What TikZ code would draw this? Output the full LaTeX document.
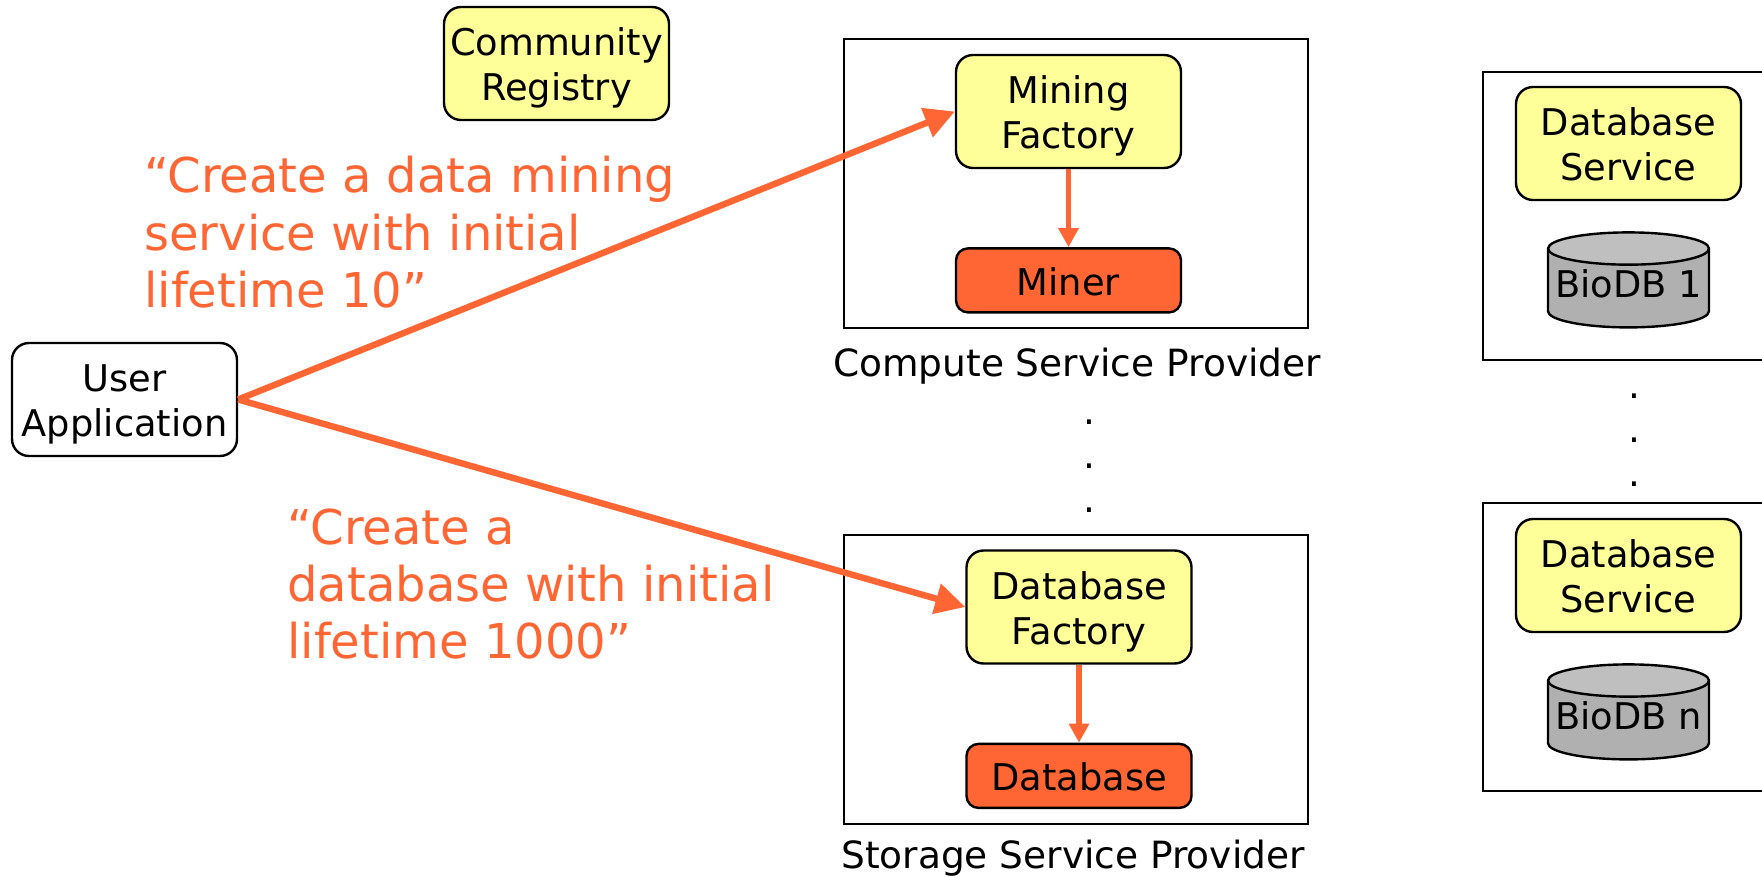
\documentclass[tikz,border=0pt]{standalone}
\usepackage{fontspec}
\setmainfont{DejaVu Sans}
\usetikzlibrary{positioning, arrows.meta, shapes.geometric}
\definecolor{factoryyellow}{HTML}{FFFF99}
\definecolor{createorange}{HTML}{FF6633}

\begin{document}
\begin{tikzpicture}[
  x=0.5pt, y=-0.5pt,
  node distance=39pt,
  box/.style={rectangle, draw, line width=1.2pt, rounded corners=8.5pt, text width=112.5pt, minimum height=56.5pt, inner sep=0pt, align=center, font=\fontsize{18.4}{22.5}\selectfont, execute at begin node={\rule{0pt}{19.7pt}}, execute at end node={\rule[-5pt]{0pt}{5pt}}},
  factory/.style={box, fill=factoryyellow},
  product/.style={box, fill=createorange, rounded corners=6pt, minimum height=32pt},
  provider/.style={rectangle, draw, line width=0.8pt, minimum width=232pt, minimum height=144.5pt},
  bioprovider/.style={rectangle, draw, line width=1pt, minimum width=160pt, minimum height=144pt},
  biodb/.style={cylinder, shape border rotate=90, aspect=0.22, draw, line width=1.2pt, cylinder uses custom fill, cylinder body fill=black!31, cylinder end fill=black!25, minimum width=80.5pt, minimum height=47.5pt, inner sep=0pt, text depth=5pt, font=\fontsize{18.4}{22.5}\selectfont},
  caption/.style={font=\fontsize{18.75}{22.5}\selectfont, inner sep=0pt},
  dots/.style={align=center, inner sep=0pt, font=\fontsize{18.7}{22}\selectfont},
  request/.style={anchor=north west, align=left, inner sep=0pt, text=createorange, font=\fontsize{24}{28.7}\selectfont},
  arrow/.style={-{Triangle[length=15pt, width=15pt]}, line width=3.2pt, createorange},
  smallarrow/.style={-{Triangle[length=9.5pt, width=9.7pt]}, line width=2.7pt, createorange}
]
\useasboundingbox (0,0) rectangle (1762,877);

% Left side - User and Registry
\node[box, fill=white] (user) at (124.5,399.5) {User\\Application};
\node[factory] (registry) at (556.5,63.5) {Community\\Registry};

% Provider frames
\node[provider] (compute) at (1076,183.5) {};
\node[provider] (storage) at (1076,679.5) {};
\node[bioprovider] (bio-1) at (1643,216) {};
\node[bioprovider] (bio-n) at (1643,646.5) {};

% Compute Service Provider
\node[factory] (mining) at (1068.5,111.5) {Mining\\Factory};
\node[product, below=of mining] (miner) {Miner};
\node[caption, below=9.2pt of compute, xshift=0.5pt] (compute-label) {Compute Service Provider};

% Storage Service Provider
\node[factory] (dbfactory) at (1079,607) {Database\\Factory};
\node[product, below=of dbfactory] (database) {Database};
\node[caption, below=7.5pt of storage, xshift=-1.5pt] (storage-label) {Storage Service Provider};

% Database services
\node[factory] (service-1) at (1628.5,143.5) {Database\\Service};
\node[biodb, below=15pt of service-1] (db-1) {BioDB 1};
\node[factory] (service-n) at (1628.5,575.5) {Database\\Service};
\node[biodb, below=15pt of service-n] (db-n) {BioDB n};

% Dots
\node[dots] (dots-mid) at (1089,466) {.\\.\\.};
\node[dots] (dots-right) at (1634,440) {.\\.\\.};

% Requests
\node[request] (request-mine) at (144,156) {“Create a data mining\\service with initial\\lifetime 10”};
\node[request] (request-db) at (287,508) {“Create a\\database with initial\\lifetime 1000”};

% Arrows
\draw[arrow] (user.east) -- (mining.west);
\draw[arrow] (user.east) -- (dbfactory.west);
\draw[smallarrow] (mining) -- (miner);
\draw[smallarrow] (dbfactory) -- (database);

\end{tikzpicture}
\end{document}
